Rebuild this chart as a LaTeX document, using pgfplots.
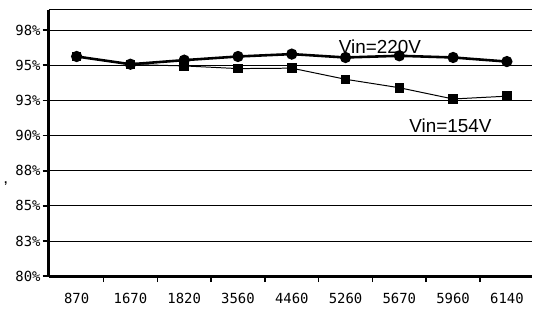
\documentclass[border=0pt]{standalone}
\usepackage{fontspec}
\setmainfont{Liberation Sans}
\setmonofont{DejaVu Sans Mono}
\usepackage{pgfplots}
\pgfplotsset{compat=1.18}
\begin{document}
\begin{tikzpicture}
\begin{axis}[
  scale only axis,
  width=486pt, height=268pt,
  xmin=-0.52, xmax=8.46,
  ymin=80, ymax=98.93,
  clip=false,
  axis x line*=bottom,
  axis y line*=left,
  axis line style={line width=2.8pt, -},
  xtick={0.5,1.5,...,7.5},
  xticklabels={},
  x tick style={black, line width=1.6pt},
  xtick align=outside,
  extra x ticks={0,...,8},
  extra x tick labels={870,1670,1820,3560,4460,5260,5670,5960,6140},
  extra x tick style={major tick length=0pt, xticklabel style={font=\ttfamily\fontsize{14}{15}\selectfont, yshift=-14pt}},
  ytick={80,82.5,85,87.5,90,92.5,95,97.5},
  yticklabels={80\%,83\%,85\%,88\%,90\%,93\%,95\%,98\%},
  yticklabel style={font=\ttfamily\fontsize{14}{15}\selectfont, inner sep=1pt, xshift=-1pt},
  y tick style={black, line width=1.6pt},
  ytick align=outside,
  major tick length=6pt,
  ymajorgrids,
  grid style={black, line width=1.1pt},
  extra y ticks={98.93},
  extra y tick labels={},
  extra y tick style={grid=major, major tick length=0pt},
]
\addplot[black, line width=2.6pt, mark=*, mark size=4.3pt, mark options={solid, fill=black}]
  coordinates {(0,95.62) (1,95.07) (2,95.36) (3,95.62) (4,95.79) (5,95.55) (6,95.67) (7,95.55) (8,95.26)};
\addplot[black, line width=1pt, mark=square*, mark size=4.3pt, mark options={solid, fill=black}]
  coordinates {(0,95.62) (1,95.05) (2,94.95) (3,94.76) (4,94.79) (5,94.0) (6,93.4) (7,92.6) (8,92.8)};
\node[anchor=base, font=\fontsize{19}{20}\selectfont, inner sep=0pt] at (axis cs:5.64,95.86) {Vin=220V};
\node[anchor=base, font=\fontsize{19}{20}\selectfont, inner sep=0pt] at (axis cs:6.95,90.2) {Vin=154V};
\node[font=\bfseries\fontsize{12}{12}\selectfont, inner sep=0pt] at (axis cs:-1.32,86.6) {,};
\end{axis}
\path ([xshift=-49pt,yshift=-34pt]current axis.south west) rectangle ([yshift=10pt]current axis.north east);
\end{tikzpicture}
\end{document}
